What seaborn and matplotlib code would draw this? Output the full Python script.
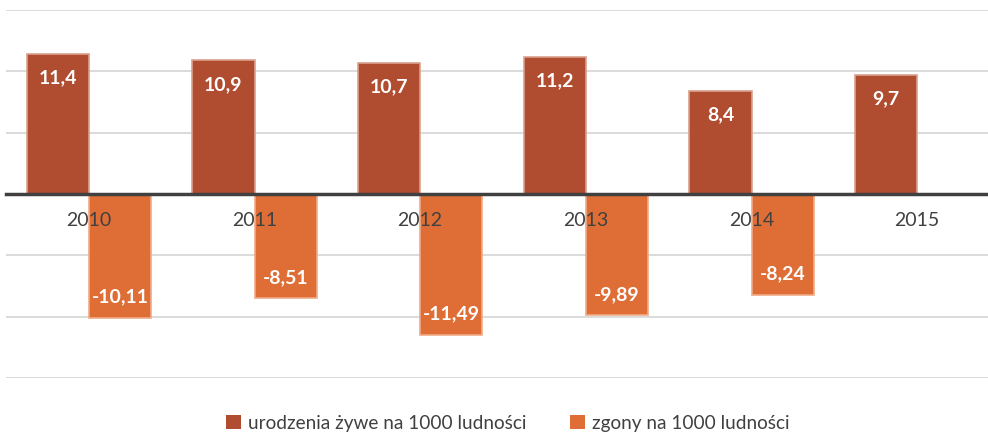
import numpy as np
import pandas as pd
import matplotlib
matplotlib.use("Agg")
import matplotlib.pyplot as plt
import seaborn as sns

years = ["2010", "2011", "2012", "2013", "2014", "2015"]
births = [11.4, 10.9, 10.7, 11.2, 8.4, 9.7]
deaths = [-10.11, -8.51, -11.49, -9.89, -8.24, np.nan]
births_labels = ["11,4", "10,9", "10,7", "11,2", "8,4", "9,7"]
deaths_labels = ["-10,11", "-8,51", "-11,49", "-9,89", "-8,24", ""]
series_names = ["urodzenia żywe na 1000 ludności", "zgony na 1000 ludności"]
colors = ["#B04D30", "#DE6E35"]
edge_colors = ["#D9A08E", "#F0AA86"]

df = pd.DataFrame({
    "rok": years * 2,
    "wartosc": births + deaths,
    "seria": [series_names[0]] * len(years) + [series_names[1]] * len(years),
})

sns.set_theme(style="white")
plt.rcParams["font.family"] = ["Lato", "DejaVu Sans"]

fig = plt.figure(figsize=(9.88, 4.34), dpi=100)
ax = fig.add_axes([6 / 988, 56 / 434, 994 / 988, 368 / 434])

sns.barplot(data=df, x="rok", y="wartosc", hue="seria", order=years,
            hue_order=series_names, palette=colors, width=0.75,
            saturation=1, ax=ax, legend=True)

for cont, ec, labs in zip(ax.containers, edge_colors, [births_labels, deaths_labels]):
    for patch, lab in zip(cont, labs):
        patch.set_edgecolor(ec)
        patch.set_linewidth(1.2)
        h = patch.get_height()
        if not lab or np.isnan(h):
            continue
        x = patch.get_x() + patch.get_width() / 2
        off = -24 if h > 0 else 21
        ax.annotate(lab, (x, h), xytext=(0, off), textcoords="offset pixels",
                    ha="center", va="center", color="white", fontsize=14,
                    fontweight="bold", zorder=5)

ax.set_ylim(-15, 15)
ax.set_xlim(-0.5, 5.5)
ax.set_yticks([-15, -10, -5, 5, 10, 15])
ax.set_yticklabels([])
ax.tick_params(axis="y", length=0)
ax.grid(axis="y", color="#D4D4D4", linewidth=1.2)
ax.set_axisbelow(True)
ax.xaxis.set_zorder(5)
for s in ["top", "right", "left"]:
    ax.spines[s].set_visible(False)
ax.spines["bottom"].set_position(("data", 0))
ax.spines["bottom"].set_color("#404040")
ax.spines["bottom"].set_linewidth(2.5)
ax.spines["bottom"].set_zorder(4)
ax.tick_params(axis="x", length=0, pad=13, labelsize=14, labelcolor="#404040")
ax.set_xlabel("")
ax.set_ylabel("")

handles, labels = ax.get_legend_handles_labels()
ax.legend(handles, labels, loc="center",
          bbox_to_anchor=(508 / 988, 11 / 434), bbox_transform=fig.transFigure,
          ncol=2, frameon=False, fontsize=13.7,
          handlelength=0.75, handleheight=0.75, handletextpad=0.4, columnspacing=2.3,
          labelcolor="#404040")
leg = ax.get_legend()
for h in leg.legend_handles:
    h.set_edgecolor("none")

fig.savefig("out.png", dpi=100)
